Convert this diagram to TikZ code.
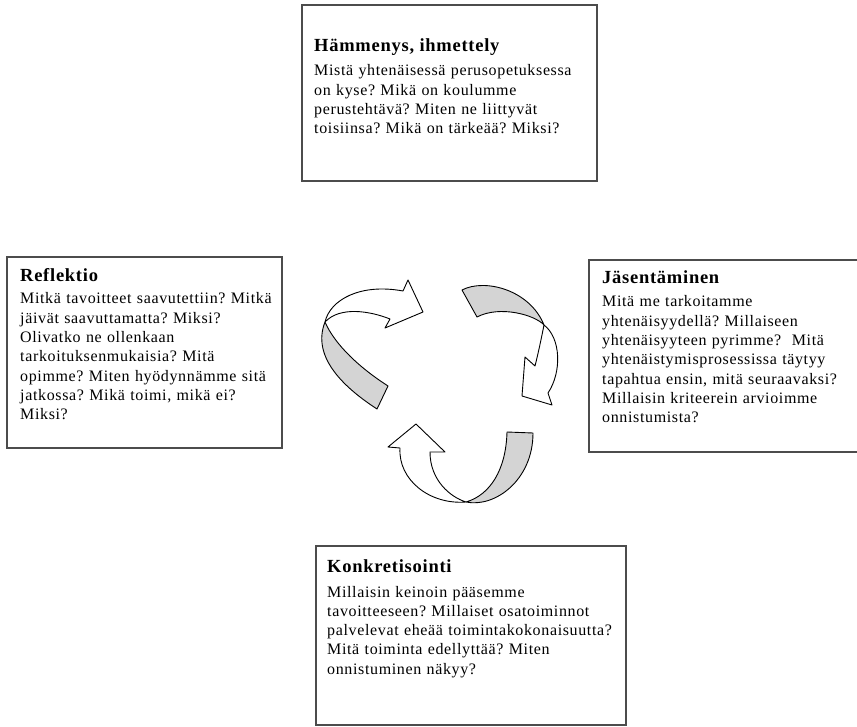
\documentclass[tikz,border=0pt]{standalone}
\usepackage{fontspec}
\setmainfont{Liberation Serif}[LetterSpace=4]
\usepackage{tikz}
\usetikzlibrary{positioning}
\frenchspacing

\tikzset{
  box/.style={draw=black!70, line width=1.3pt},
  head/.style={anchor=base west, inner sep=0pt, font=\fontsize{18.5}{20}\selectfont\bfseries},
  body/.style={anchor=base west, inner sep=0pt, text width=300pt, align=left,
    font=\fontsize{16}{19.3}\selectfont},
  band/.style={draw=black, line width=0.9pt, line join=round, fill=white},
  tail/.style={band, fill=black!17},
}

\begin{document}
\begin{tikzpicture}[x=1pt, y=-1pt]

\useasboundingbox (0,0) rectangle (857,727);
\clip (0,0) rectangle (857,727);

% Boxes
\draw[box] (302,5) rectangle (597,181);
\draw[box] (7,257) rectangle (282,448);
\draw[box] (589,260) rectangle (866,452);
\draw[box] (316,546) rectangle (626,725);

% Top box
\node[head] (wonderT) at (314,52) {Hämmenys, ihmettely};
\node[body] (wonderB) at (314,76) {Mistä yhtenäisessä perusopetuksessa\\
  on kyse? Mikä on koulumme\\
  perustehtävä? Miten ne liittyvät\\
  toisiinsa? Mikä on tärkeää? Miksi?};

% Left box
\node[head] (reflT) at (20,282) {Reflektio};
\node[body] (reflB) at (20,304) {Mitkä tavoitteet saavutettiin? Mitkä\\
  jäivät saavuttamatta? Miksi?\\
  Olivatko ne ollenkaan\\
  tarkoituksenmukaisia? Mitä\\
  opimme? Miten hyödynnämme sitä\\
  jatkossa? Mikä toimi, mikä ei?\\
  Miksi?};

% Right box
\node[head] (struT) at (602,284) {Jäsentäminen};
\node[body] (struB) at (602,307) {Mitä me tarkoitamme\\
  yhtenäisyydellä? Millaiseen\\
  yhtenäisyyteen pyrimme?~ Mitä\\
  yhtenäistymisprosessissa täytyy\\
  tapahtua ensin, mitä seuraavaksi?\\
  Millaisin kriteerein arvioimme\\
  onnistumista?};

% Bottom box
\node[head] (konkT) at (327,572) {Konkretisointi};
\node[body] (konkB) at (327,597) {Millaisin keinoin pääsemme\\
  tavoitteeseen? Millaiset osatoiminnot\\
  palvelevat eheää toimintakokonaisuutta?\\
  Mitä toiminta edellyttää? Miten\\
  onnistuminen näkyy?};

% Cycle arrows (twisted bands)
\coordinate (tw1) at (325,322);
\coordinate (tw2) at (544,325);
\coordinate (tw3) at (466,502);

% upper left arrow
\draw[tail] (377,409) .. controls (340,385) and (312,355) .. (tw1)
  .. controls (335,345) and (360,368) .. (388,386) -- cycle;
\draw[band] (tw1) .. controls (330,300) and (360,283) .. (403,291)
  -- (408,280) -- (423,312) -- (385,328) -- (390,319)
  .. controls (370,311) and (340,306) .. (tw1) -- cycle;

% right arrow
\draw[tail] (462,290) .. controls (485,278) and (530,290) .. (tw2)
  .. controls (535,315) and (500,305) .. (477,317) -- cycle;
\draw[band] (tw2) .. controls (561,338) and (562,372) .. (548,393)
  -- (552,405) -- (522,396) -- (525,357) -- (535,366)
  .. controls (539,350) and (542,335) .. (tw2) -- cycle;

% bottom arrow
\draw[tail] (507,432) .. controls (506,470) and (490,495) .. (tw3)
  .. controls (495,508) and (533,480) .. (533,433) -- cycle;
\draw[band] (tw3) .. controls (430,505) and (398,480) .. (400,448)
  -- (388,447) -- (416,424) -- (445,452) -- (430,452)
  .. controls (430,480) and (450,497) .. (tw3) -- cycle;

\end{tikzpicture}
\end{document}
